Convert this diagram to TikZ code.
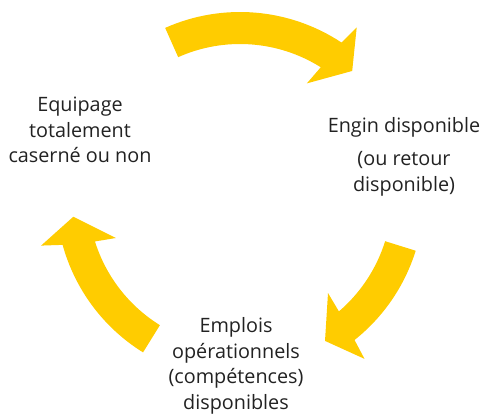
\documentclass[tikz,border=0pt]{standalone}
\usepackage{fontspec}
\setmainfont{Open Sans}
\usetikzlibrary{calc}
\definecolor{arrowyellow}{HTML}{FFCC00}
\definecolor{textgray}{HTML}{222222}
\tikzset{
  ringarrow/.style={fill=arrowyellow, draw=none},
  label/.style={text=textgray, align=center, font=\fontsize{19.8}{25.6}\selectfont, inner sep=0pt}
}
% #1 tail angle, #2 outer join, #3 inner join, #4 outer barb, #5 inner barb, #6 tip
\newcommand{\ringarrowpath}[6]{%
  \fill[ringarrow] (#1:184pt) arc[start angle=#1, end angle=#2, radius=184pt]
    -- (#4:205pt) -- (#6:168pt) -- (#5:131pt) -- (#3:152pt)
    arc[start angle=#3, end angle=#1, radius=152pt] -- cycle;}
\begin{document}
\begin{tikzpicture}[x=1pt,y=1pt]
\useasboundingbox (0,0) rectangle (486,416);
\begin{scope}[shift={(240,220)}]
  \ringarrowpath{114}{56.5}{57.9}{55.3}{59.3}{48.1}
  \ringarrowpath{-17.3}{-51.5}{-49.4}{-52.6}{-47.8}{-59.6}
  \ringarrowpath{238.2}{195.4}{197.4}{194}{198.7}{187.1}
\end{scope}
\node[label] (equip) at (80,286) {Equipage\\totalement\\casern\'e ou non};
\node[label] (engin) at (404,289) {Engin disponible};
\node[label] (retour) at (404,242) {(ou retour\\disponible)};
\node[label] (emplois) at (236,50) {Emplois\\op\'erationnels\\(comp\'etences)\\disponibles};
\end{tikzpicture}
\end{document}
